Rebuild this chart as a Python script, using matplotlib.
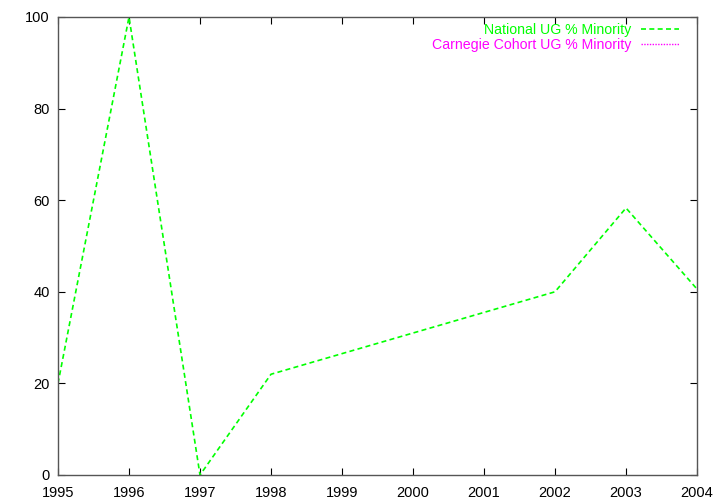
import matplotlib
matplotlib.use("Agg")
import matplotlib.pyplot as plt

plt.rcParams['font.family'] = ['Liberation Sans', 'DejaVu Sans']

years = [1995, 1996, 1997, 1998, 2002, 2003, 2004]
national = [20, 100, 0, 22, 40, 58.3, 40.6]
carnegie_years = []
carnegie = []

fig = plt.figure(figsize=(7.2, 5.04), dpi=100)
ax = fig.add_axes([58/720, 29/504, 639/720, 458/504])

ax.plot(years, national, color='#00ff00', linestyle=(0, (3, 2)), linewidth=1.2,
        label='National UG % Minority')
ax.plot(carnegie_years, carnegie, color='#ff00ff', linestyle=(0, (1, 1)), linewidth=1.0,
        label='Carnegie Cohort UG % Minority')

ax.set_xlim(1995, 2004)
ax.set_ylim(0, 100)
ax.set_xticks(range(1995, 2005))
ax.set_yticks(range(0, 101, 20))
ax.tick_params(direction='in', top=True, right=True, length=5, labelsize=10.5)
ax.tick_params(axis='x', pad=8)
ax.tick_params(axis='y', pad=6)
for s in ax.spines.values():
    s.set_color('#555555')
    s.set_linewidth(1.0)

leg = ax.legend(loc='upper right', frameon=False, markerfirst=False, fontsize=10.2,
                handlelength=2.7, labelcolor='linecolor', borderaxespad=0.3,
                bbox_to_anchor=(0.988, 1.008), handletextpad=0.7, labelspacing=0.05)

fig.savefig('out.png', dpi=100)
